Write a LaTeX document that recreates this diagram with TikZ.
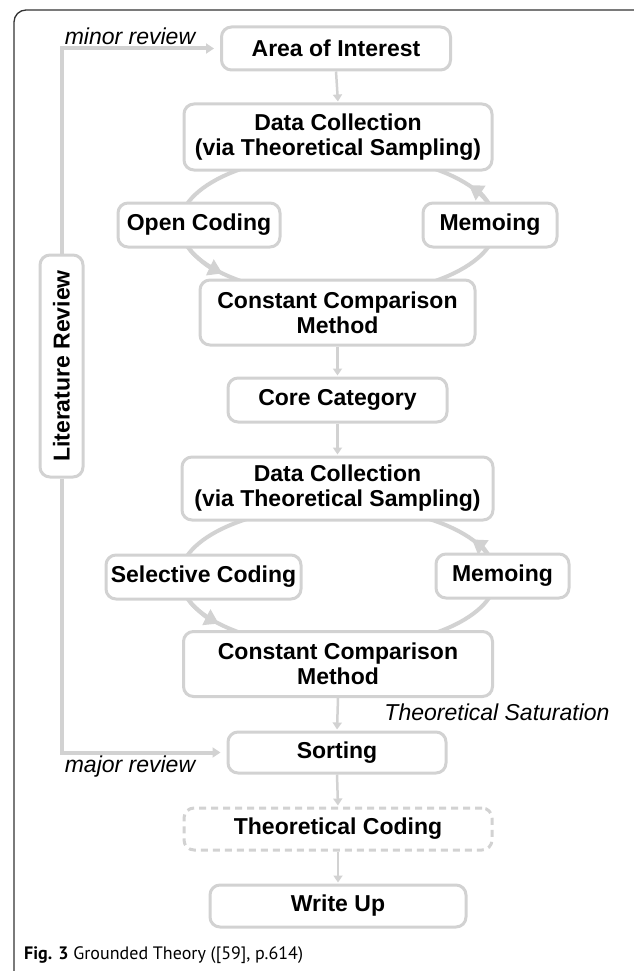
\documentclass[tikz,border=0pt]{standalone}
\usepackage{fontspec}
\setmainfont{Liberation Sans}
\newfontfamily\capfont{PT Sans}
\usetikzlibrary{arrows.meta,backgrounds}
\definecolor{boxgray}{HTML}{D2D2D2}
\definecolor{framegray}{HTML}{333333}

\begin{document}
\begin{tikzpicture}[x=1pt,y=-1pt,
  stage/.style={draw=boxgray,line width=3pt,rounded corners=10pt,fill=white,align=center,inner sep=2pt,font=\fontsize{23}{25}\selectfont\bfseries},
  flow/.style={draw=boxgray,line width=2.5pt,-{Triangle[width=9pt,length=7pt]},shorten >=1pt},
  cycleline/.style={draw=boxgray,line width=4pt},
  cycletip/.style={cycleline,-{Triangle[width=17pt,length=14pt]}},
  review/.style={draw=boxgray,line width=4pt,-{Triangle[width=10pt,length=8pt]},shorten >=6pt},
  remark/.style={font=\fontsize{23}{25}\selectfont\itshape,inner sep=0pt}]
\useasboundingbox (0,0) rectangle (633,971);
\draw[framegray,line width=1.3pt,rounded corners=12pt] (14,975) -- (14,10) -- (640,10);

\node[stage,minimum width=229pt,minimum height=43pt] (area) at (336,48.5) {Area of Interest};
\node[stage,minimum width=308pt,minimum height=66pt] (data1) at (338,137) {Data Collection\\(via Theoretical Sampling)};
\node[stage,minimum width=162pt,minimum height=44pt] (open) at (199,225) {Open Coding};
\node[stage,minimum width=134pt,minimum height=44pt] (memo1) at (490,225) {Memoing};
\node[stage,minimum width=275pt,minimum height=65pt] (const1) at (337.5,312.5) {Constant Comparison\\Method};
\node[stage,minimum width=219pt,minimum height=44pt] (core) at (337.5,400) {Core Category};
\node[stage,minimum width=311pt,minimum height=63pt] (data2) at (337.5,488.5) {Data Collection\\(via Theoretical Sampling)};
\node[stage,minimum width=195pt,minimum height=44pt] (select) at (203.5,577) {Selective Coding};
\node[stage,minimum width=133pt,minimum height=44pt] (memo2) at (502.5,576) {Memoing};
\node[stage,minimum width=309pt,minimum height=65pt] (const2) at (338,664) {Constant Comparison\\Method};
\node[stage,minimum width=218pt,minimum height=41pt] (sort) at (337,752.5) {Sorting};
\node[stage,dash pattern=on 7pt off 5pt,minimum width=308pt,minimum height=42pt] (theo) at (338,829) {Theoretical Coding};
\node[stage,minimum width=256pt,minimum height=42pt] (write) at (338,906) {Write Up};
\node[stage,rotate=90,minimum width=222pt,minimum height=43pt] (lit) at (61.5,366) {Literature Review};

\node[remark] (minor) at (130,36) {minor review};
\node[remark] (major) at (130,767) {major review};
\node[remark] (sat) at (497,712) {Theoretical Saturation};
\node[anchor=west,inner sep=0pt,font=\capfont\fontsize{18}{20}\selectfont] (cap) at (24,955) {\textbf{Fig. 3} Grounded Theory ([59], p.614)};

\begin{scope}[on background layer]
\draw[cycleline] (338,225) ellipse [x radius=158, y radius=71];
\draw[cycletip] ([shift={(160:158 and 71)}]338,225) arc[start angle=160,end angle=137,x radius=158,y radius=71];
\draw[cycletip] ([shift={(-10:158 and 71)}]338,225) arc[start angle=-10,end angle=-34,x radius=158,y radius=71];
\draw[cycleline] (338,577) ellipse [x radius=158, y radius=71];
\draw[cycletip] ([shift={(160:158 and 71)}]338,577) arc[start angle=160,end angle=139,x radius=158,y radius=71];
\draw[cycletip] ([shift={(-10:158 and 71)}]338,577) arc[start angle=-10,end angle=-32,x radius=158,y radius=71];
\draw[review] (lit) |- (area.west);
\draw[review] (lit) |- (sort.west);
\end{scope}
\draw[flow] (area.south) -- (data1.north);
\draw[flow] (const1.south) -- (core.north);
\draw[flow] (core.south) -- (data2.north);
\draw[flow] (const2.south) -- (sort.north);
\draw[flow] (sort.south) -- (theo.north);
\draw[flow] (theo.south) -- (write.north);
\end{tikzpicture}
\end{document}
